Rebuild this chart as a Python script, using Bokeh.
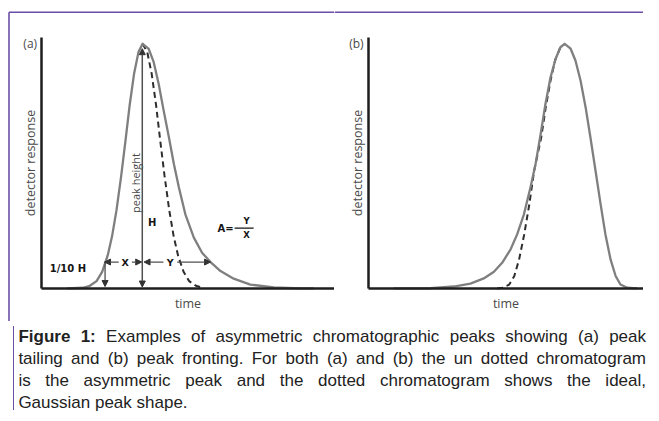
from bokeh.plotting import figure
from bokeh.models import Range1d, FixedTicker, Arrow, NormalHead, Div, Span
from bokeh.layouts import column, row
from bokeh.embed import file_html
from bokeh.resources import INLINE
from bokeh.core.properties import value
import math

# ---------------- data (time: arbitrary units, response: % of peak height H) ----------------
# Panel (a): tailing peak (solid) and ideal Gaussian (dashed)
a_solid_time = [8.9, 14.3, 16.6, 18.9, 20.8, 22.7, 24.2, 25.7, 27.3, 28.8, 30.2, 31.7, 33.2, 34.6,
                36.7, 38.4, 40.1, 41.8, 43.6, 45.3, 47.0, 49.2, 52.1, 54.9, 57.8, 61.2, 65.7, 71.4,
                79.4, 88.5, 93.0]
a_solid_resp = [0.0, 0.3, 1.1, 3.0, 6.8, 13.5, 21.4, 32.0, 46.0, 60.7, 75.0, 87.8, 96.6, 100.0,
                97.9, 92.5, 83.6, 72.7, 61.7, 50.8, 41.3, 30.3, 20.8, 14.6, 10.8, 7.1, 4.0, 1.6,
                0.4, 0.0, 0.0]
a_ideal_time = [34.6, 36.2, 37.7, 39.2, 40.6, 42.1, 43.7, 45.2, 46.7, 48.6, 50.5, 52.8, 55.1]
a_ideal_resp = [100.0, 96.6, 87.8, 75.0, 60.7, 46.0, 32.0, 21.4, 13.5, 6.8, 3.0, 1.1, 0.3]

# Panel (b): fronting peak (solid) and ideal Gaussian (dashed)
b_solid_time = [9.1, 22.1, 30.3, 36.2, 40.9, 44.5, 47.4, 50.4, 52.7, 55.1, 57.4, 59.2, 61.0, 62.7,
                64.5, 66.3, 68.0, 69.5, 71.6, 73.3, 75.1, 76.9, 78.6, 80.4, 82.2, 83.9, 85.7, 87.5,
                89.2, 91.6, 95.1]
b_solid_resp = [0.0, 0.1, 0.8, 2.0, 4.1, 6.8, 10.5, 16.0, 22.1, 30.3, 41.3, 50.8, 63.1, 75.4,
                86.3, 93.9, 98.6, 100.0, 98.0, 93.2, 85.0, 74.0, 61.7, 48.1, 34.4, 22.1, 11.9, 5.1,
                1.6, 0.3, 0.0]
b_ideal_time = [45.6, 47.5, 49.9, 51.7, 53.4, 55.2, 57.0, 58.7, 61.2, 62.8, 64.5, 66.1, 67.8, 69.2]
b_ideal_resp = [0.0, 0.3, 1.6, 5.1, 11.9, 22.1, 34.4, 48.1, 61.7, 74.0, 85.0, 93.2, 98.0, 99.7]

# Read-offs used by the panel (a) measurement annotations
a_apex_time = 34.5
a_peak_height = 100.0
a_tenth_level = 10.8
a_front_time = 21.6   # leading edge at 1/10 H
a_tail_time = 57.8    # trailing edge at 1/10 H

panel_tags = ["(a)", "(b)"]
x_label = "time"
y_label = "detector response"

caption_lines = [
    "<b>Figure 1:</b> Examples of asymmetric chromatographic peaks showing (a) peak",
    "tailing and (b) peak fronting. For both (a) and (b) the un dotted chromatogram",
    "is the asymmetric peak and the dotted chromatogram shows the ideal,",
    "Gaussian peak shape.",
]

# ---------------- styling / geometry ----------------
PURPLE = "#6b4fa6"
SOLID = "#7f7f7f"
DASH = "#2e2e2e"
AXIS = "#1e1e1e"
LABEL = "#4a4a4a"
ANNOT = "#151515"
ARROW = "#505050"
H_P = 321
W_A, W_B = 334, 309
Y_RANGE = (-13.5, 117.7)
Y_AXIS_TOP = 102.6
BORDER_Y = 112.9      # purple rule along the top of the figure box


def make_panel(width, x_range, x_axis_end, tag, tag_x):
    p = figure(width=width, height=H_P, x_range=Range1d(*x_range), y_range=Range1d(*Y_RANGE),
               output_backend="svg", toolbar_location=None, min_border=0)
    p.min_border_left = p.min_border_right = p.min_border_top = p.min_border_bottom = 0
    p.outline_line_color = None
    p.grid.visible = False
    p.background_fill_color = "white"
    p.border_fill_color = "white"
    for ax in (p.xaxis[0], p.yaxis[0]):
        ax.ticker = FixedTicker(ticks=[])
        ax.fixed_location = 0
        ax.major_tick_line_color = None
        ax.minor_tick_line_color = None
        ax.major_tick_out = 0
        ax.major_tick_in = 0
        ax.minor_tick_out = 0
        ax.minor_tick_in = 0
        ax.major_label_text_font_size = "0px"
        ax.axis_line_color = AXIS
        ax.axis_line_width = 2.5
        ax.axis_label_text_font = "Open Sans"
        ax.axis_label_text_font_size = "12.5px"
        ax.axis_label_text_font_style = "normal"
        ax.axis_label_text_color = LABEL
    p.xaxis.bounds = (0, x_axis_end)
    p.yaxis.bounds = (0, Y_AXIS_TOP)
    p.xaxis.axis_label = x_label
    p.yaxis.axis_label = y_label
    p.xaxis.axis_label_standoff = 6
    p.yaxis.axis_label_standoff = 3
    p.text(x=[tag_x], y=[100], text=[tag], text_align="center", text_baseline="middle",
           text_font=value("Open Sans"), text_font_size=value("12px"), text_color=LABEL)
    return p


def head():
    return NormalHead(size=6, fill_color="#333333", line_color="#333333", line_width=1)


# ---------------- panel (a) ----------------
pa = make_panel(W_A, (-13.89, 100.1), 100.1, panel_tags[0], -3.75)
border_x = -10.99     # purple rule down the left of the figure box
pa.segment(x0=[border_x, border_x], y0=[BORDER_Y, BORDER_Y], x1=[border_x, 100.1],
           y1=[Y_RANGE[0], BORDER_Y], line_color=PURPLE, line_width=1.6)
pa.line(a_ideal_time, a_ideal_resp, line_color=DASH, line_width=2, line_dash="6 4")
pa.line(a_solid_time, a_solid_resp, line_color=SOLID, line_width=2.3, line_join="round")

# peak height arrow (double headed)
pa.add_layout(Arrow(start=head(), end=head(), x_start=a_apex_time, y_start=0.6,
                    x_end=a_apex_time, y_end=a_peak_height - 2.0,
                    line_color=ARROW, line_width=1.5))
# 1/10 H drop arrow
pa.add_layout(Arrow(end=head(), x_start=a_front_time + 0.2, y_start=a_tenth_level,
                    x_end=a_front_time + 0.2, y_end=0.8, line_color=ARROW, line_width=1.3))
# width arrows at 1/10 H
x_lab = (a_front_time + a_apex_time) / 2 + 0.6
y_lab = 44.0
pa.add_layout(Arrow(end=head(), x_start=x_lab - 2.2, y_start=a_tenth_level,
                    x_end=a_front_time, y_end=a_tenth_level, line_color=ARROW, line_width=1.3))
pa.add_layout(Arrow(end=head(), x_start=x_lab + 2.3, y_start=a_tenth_level,
                    x_end=a_apex_time - 0.2, y_end=a_tenth_level, line_color=ARROW, line_width=1.3))
pa.add_layout(Arrow(end=head(), x_start=y_lab - 2.3, y_start=a_tenth_level,
                    x_end=a_apex_time + 0.6, y_end=a_tenth_level, line_color=ARROW, line_width=1.3))
pa.add_layout(Arrow(end=head(), x_start=y_lab + 2.4, y_start=a_tenth_level,
                    x_end=a_tail_time, y_end=a_tenth_level, line_color=ARROW, line_width=1.3))

bold = dict(text_font=value("DejaVu Sans"), text_font_style="bold", text_color=ANNOT,
            text_baseline="middle")
pa.text(x=[x_lab, y_lab], y=[a_tenth_level, a_tenth_level], text=["X", "Y"],
        text_align="center", text_font_size=value("9.5px"), **bold)
pa.text(x=[9.1], y=[8.0], text=["1/10 H"], text_align="center",
        text_font_size=value("10px"), **bold)
pa.text(x=[a_apex_time + 3.4], y=[27.1], text=["H"], text_align="center",
        text_font_size=value("10px"), **bold)
pa.text(x=[a_apex_time - 2.3], y=[43.1], text=["peak height"], angle=math.pi / 2,
        text_align="center", text_baseline="middle", text_font=value("Open Sans"),
        text_font_size=value("11px"), text_color=LABEL)
# asymmetry factor A = Y / X
asym_t, asym_r = 65.7, 24.5
pa.text(x=[asym_t], y=[asym_r], text=["A="], text_align="right",
        text_font_size=value("10px"), **bold)
pa.segment(x0=[asym_t + 0.3], y0=[asym_r + 0.2], x1=[asym_t + 6.8], y1=[asym_r + 0.2],
           line_color=ANNOT, line_width=1.2)
pa.text(x=[asym_t + 4.4, asym_t + 4.4], y=[asym_r + 3.0, asym_r - 2.8], text=["Y", "X"],
        text_align="center", text_font_size=value("8.5px"), **bold)

# ---------------- panel (b) ----------------
pb = make_panel(W_B, (-11.84, 97.35), 97.35, panel_tags[1], -4.1)
pb.add_layout(Span(location=BORDER_Y, dimension="width", line_color=PURPLE, line_width=1.6))
pb.line(b_ideal_time, b_ideal_resp, line_color=DASH, line_width=2, line_dash="6 4")
pb.line(b_solid_time, b_solid_resp, line_color=SOLID, line_width=2.3, line_join="round")

# ---------------- caption ----------------
parts = []
for i, ln in enumerate(caption_lines):
    last = "justify" if i < len(caption_lines) - 1 else "left"
    parts.append(f'<div style="text-align:justify;text-align-last:{last};">{ln}</div>')
caption_html = (
    f'<div style="margin:0 0 0 8px;width:635px;height:84px;box-sizing:border-box;'
    f'border-left:1.6px solid {PURPLE};padding:0 2px 0 4.4px;'
    f'font-family:\'Liberation Sans\',Arial,sans-serif;font-size:17px;line-height:22px;color:#222;">'
    + "".join(parts) + "</div>"
)
cap = Div(text=caption_html, width=643, height=84)

layout = column(row(pa, pb), cap)
open("out.html", "w").write(file_html(layout, INLINE))
